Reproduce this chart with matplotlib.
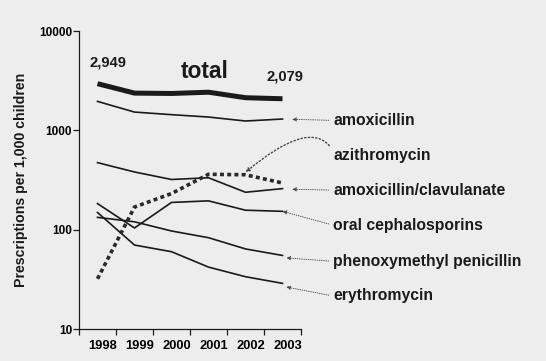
import matplotlib
matplotlib.use("Agg")
import matplotlib.pyplot as plt

plt.rcParams['font.family'] = ['Liberation Sans', 'DejaVu Sans']
plt.rcParams['font.weight'] = 'bold'
plt.rcParams['axes.labelweight'] = 'bold'

# prescriptions per 1,000 children
years = ["1998", "1999", "2000", "2001", "2002", "2003"]
total = [2949, 2370, 2350, 2420, 2130, 2079]
amoxicillin = [1955, 1527, 1438, 1361, 1241, 1300]
azithromycin = [32, 169, 231, 361, 357, 295]
amox_clav = [473, 381, 320, 333, 238, 259]
oral_ceph = [183, 104, 188, 195, 157, 153]
phenoxy_pen = [133, 120, 97, 83, 64, 55]
erythromycin = [149, 70, 60, 42, 33.6, 28.8]

ink = "#1a1a1a"
bg = "#ededed"

fig = plt.figure(figsize=(5.46, 3.61), dpi=100, facecolor=bg)
ax = fig.add_axes([79/546, 32/361, 222/546, 298/361], facecolor=bg)

x = list(range(len(years)))
ax.plot(x, total, color=ink, lw=3.6, solid_capstyle='butt')
ax.plot(x, amoxicillin, color=ink, lw=1.2)
ax.plot(x, amox_clav, color=ink, lw=1.2)
ax.plot(x, oral_ceph, color=ink, lw=1.2)
ax.plot(x, phenoxy_pen, color=ink, lw=1.2)
ax.plot(x, erythromycin, color=ink, lw=1.2)
ax.plot(x, azithromycin, color="#2a2a2a", lw=2.6, dashes=(1.1, 0.9))

ax.set_yscale('log')
ax.set_ylim(10, 10000)
ax.set_xlim(-0.5, 5.5)
ax.set_yticks([10, 100, 1000, 10000])
ax.set_yticklabels(["10", "100", "1000", "10000"])
ax.minorticks_off()
ax.set_xticks([i - 0.5 for i in range(len(years) + 1)])
ax.set_xticklabels([])
ax.set_xticks([i + 0.14 for i in x], minor=True)
ax.set_xticklabels(years, minor=True)
ax.tick_params(axis='x', which='minor', length=0, pad=8, labelsize=9.3)
ax.tick_params(axis='x', which='major', length=4, width=0.9, color=ink)
ax.tick_params(axis='y', length=4, width=0.9, color=ink, labelsize=8.5, pad=1)
for s in ['top', 'right']:
    ax.spines[s].set_visible(False)
for s in ['left', 'bottom']:
    ax.spines[s].set_color(ink)
    ax.spines[s].set_linewidth(0.9)

ax.set_ylabel("Prescriptions per 1,000 children", fontsize=10.2, labelpad=8,
              color=ink, fontweight='bold')

ax.text(0.28, 4820, "2,949", ha='center', va='center', fontsize=10.6, color=ink)
ax.text(2.9, 3917, "total", ha='center', va='center', fontsize=16.4, color=ink)
ax.text(5.07, 3490, "2,079", ha='center', va='center', fontsize=10.6, color=ink, clip_on=False)

arrow = dict(arrowstyle='-|>', lw=0.6, linestyle=':', color='#444444',
             mutation_scale=6, relpos=(0, 0.5), shrinkA=1, shrinkB=0)
labels = [
    ("amoxicillin", (5.26, 1290), 1260),
    ("amoxicillin/clavulanate", (5.26, 255), 250),
    ("oral cephalosporins", (5.0, 153), 111),
    ("phenoxymethyl penicillin", (5.1, 52), 48),
    ("erythromycin", (5.1, 26.5), 21.5),
]
for name, tip, ty in labels:
    ax.annotate(name, xy=tip, xytext=(6.365, ty), ha='left', va='center',
                fontsize=11.3, color=ink, arrowprops=arrow, annotation_clip=False)

az = dict(arrow, connectionstyle='angle3,angleA=120,angleB=40', lw=1.0, relpos=(0, 0.8))
ax.annotate("azithromycin", xy=(4, 378), xytext=(6.365, 561), ha='left', va='center',
            fontsize=11.3, color=ink, arrowprops=az, annotation_clip=False)

fig.savefig("out.png", dpi=100, facecolor=bg)
